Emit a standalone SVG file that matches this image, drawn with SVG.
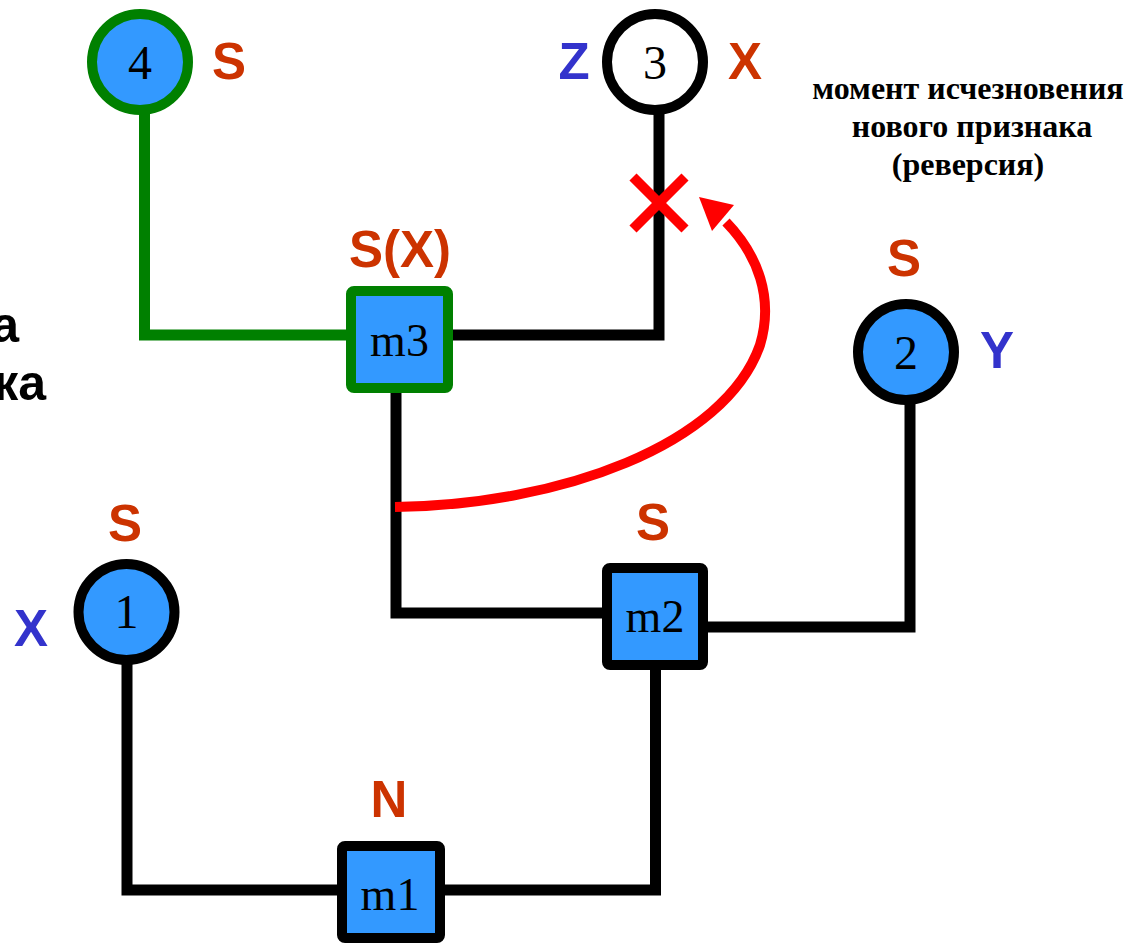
<svg xmlns="http://www.w3.org/2000/svg" width="1130" height="946" viewBox="0 0 1130 946">
<style>
.bg{fill:#ffffff}
.circ{stroke-width:10;fill:#3399FF;stroke:#000000}
.box{stroke-width:10;fill:#3399FF;stroke:#000000;stroke-linejoin:round}
.num{font-family:"Liberation Serif","Times New Roman",serif;font-size:48px;fill:#000000;text-anchor:middle}
.mlab{font-family:"Liberation Serif","Times New Roman",serif;font-size:46px;fill:#000000;text-anchor:middle}
.lab{font-family:"Liberation Sans",Arial,sans-serif;font-weight:bold;font-size:51px;text-anchor:middle}
.or{fill:#CC3300}
.bl{fill:#3333CC}
.wire{fill:none;stroke:#000000;stroke-width:11;stroke-linejoin:miter}
.gwire{fill:none;stroke:#008000;stroke-width:11}
.note{font-family:"Liberation Serif","Times New Roman",serif;font-weight:bold;font-size:32px;fill:#000000;text-anchor:middle}
.side{font-family:"Liberation Sans",Arial,sans-serif;font-weight:bold;font-size:50px;fill:#000000;text-anchor:end}
</style>
<rect class="bg" x="0" y="0" width="1130" height="946"/>
<g id="connectors">
<polyline class="gwire" points="144.5,112 144.5,335 348,335"/>
<polyline class="wire" points="448,335 659,335 659,112"/>
<polyline class="wire" points="396,390 396,613 604,613"/>
<polyline class="wire" points="706,627 910,627 910,402"/>
<polyline class="wire" points="655.5,668 655.5,890 442,890"/>
<polyline class="wire" points="127,662 127,890 340,890"/>
<g id="reversion">
<path d="M395,507 C560,505 725,445 760,345 C774,298 758,255 726,222" fill="none" stroke="#FF0000" stroke-width="10"/>
<polygon points="699,197 734,205 712,231" fill="#FF0000"/>
</g>
<g id="cross" stroke="#FF0000" stroke-width="10">
<line x1="633" y1="177" x2="685" y2="229"/>
<line x1="685" y1="177" x2="633" y2="229"/>
</g>
</g>
<g id="node4">
<circle class="circ" cx="140" cy="62" r="48" style="stroke:#008000"/>
<text class="num" x="140" y="79">4</text>
<text class="lab or" x="229" y="79">S</text>
</g>
<g id="node3">
<circle class="circ" cx="655" cy="62" r="48" style="fill:#ffffff"/>
<text class="num" x="655" y="79">3</text>
<text class="lab bl" x="574" y="79">Z</text>
<text class="lab or" x="745" y="79">X</text>
</g>
<g id="node2">
<circle class="circ" cx="906" cy="352" r="48"/>
<text class="num" x="906" y="369">2</text>
<text class="lab or" x="904" y="276">S</text>
<text class="lab bl" x="997" y="368">Y</text>
</g>
<g id="node1">
<circle class="circ" cx="126.5" cy="612" r="48"/>
<text class="num" x="126.5" y="628">1</text>
<text class="lab or" x="125" y="541">S</text>
<text class="lab bl" x="31" y="646">X</text>
</g>
<g id="m3">
<rect class="box" x="351" y="291" width="97" height="97" rx="3" style="stroke:#008000"/>
<text class="mlab" x="399.5" y="356">m3</text>
<text class="lab or" x="400" y="267">S(X)</text>
</g>
<g id="m2">
<rect class="box" x="607" y="568" width="96" height="97" rx="3"/>
<text class="mlab" x="655" y="632">m2</text>
<text class="lab or" x="653" y="540">S</text>
</g>
<g id="m1">
<rect class="box" x="342" y="846" width="98" height="92" rx="3"/>
<text class="mlab" x="390" y="910">m1</text>
<text class="lab or" x="389" y="817">N</text>
</g>
<g id="note">
<text class="note" x="968" y="99">момент исчезновения</text>
<text class="note" x="972" y="137">нового признака</text>
<text class="note" x="968" y="175">(реверсия)</text>
</g>
<g id="side">
<text class="side" x="19" y="342">а</text>
<text class="side" x="46" y="400">дка</text>
</g>
</svg>
